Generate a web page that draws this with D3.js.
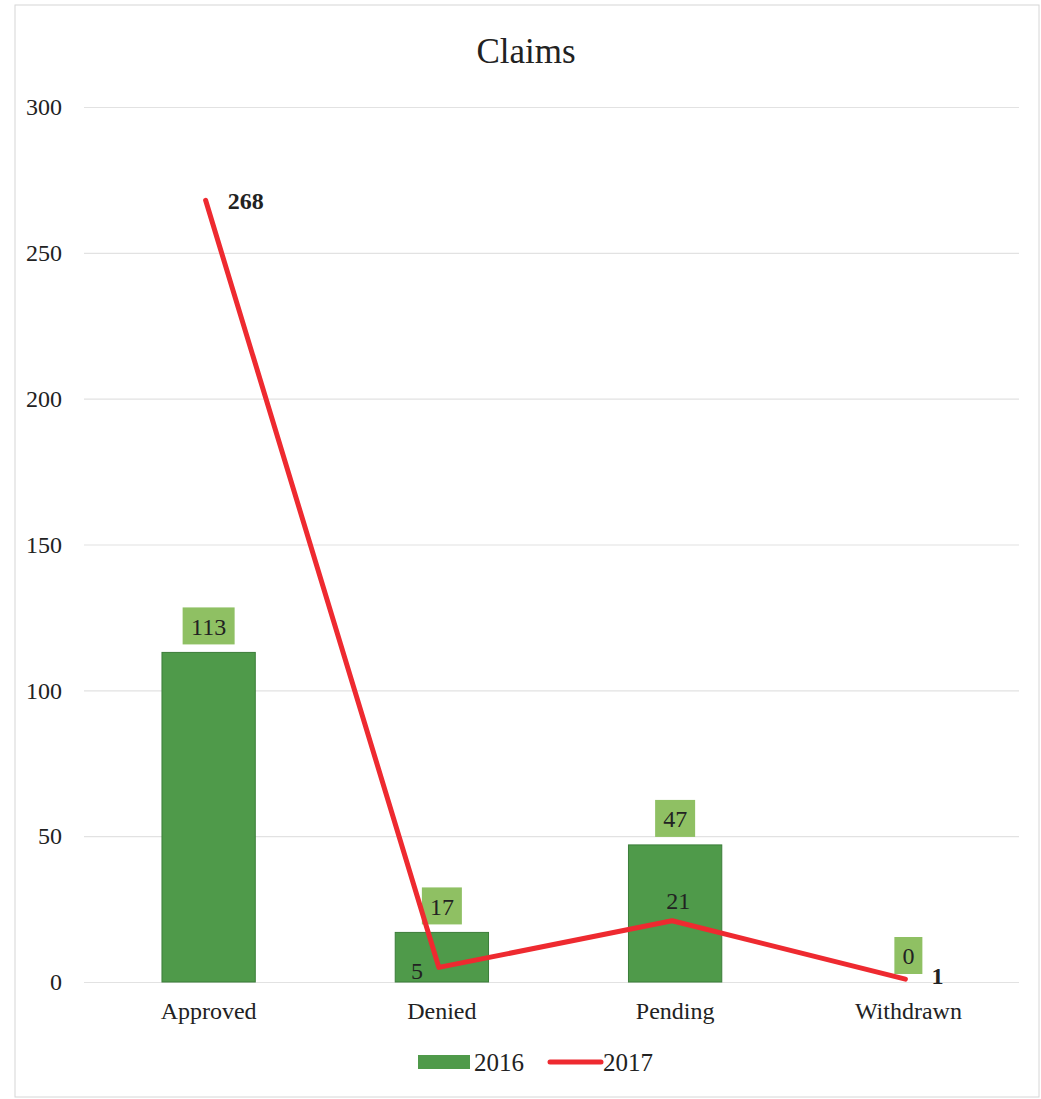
<!DOCTYPE html>
<html><head><meta charset="utf-8">
<script src="https://cdn.jsdelivr.net/npm/d3@7"></script>
<style>body{margin:0;background:#fff}svg{display:block}text{font-family:"Liberation Serif","DejaVu Serif",serif;fill:#222}</style>
</head><body>
<svg id="c" width="1041" height="1099"></svg>
<script>
const categories = ["Approved","Denied","Pending","Withdrawn"];
const values2016 = [113,17,47,0];
const values2017 = [268,5,21,1];
const yTicks = [0,50,100,150,200,250,300];
const seriesNames = ["2016","2017"];

const svg = d3.select("#c");
const W=1041,H=1099;
const m={left:92,right:16,top:107,bottom:117};
const x=d3.scaleBand().domain(categories).range([m.left,W-m.right]).paddingInner(0.6).paddingOuter(0.3);
const y=d3.scaleLinear().domain([0,300]).range([H-m.bottom,m.top]);
const FS=24;

svg.append("rect").attr("x",15).attr("y",5).attr("width",1024).attr("height",1092).attr("fill","none").attr("stroke","#d6d6d6").attr("stroke-width",1);

svg.append("text").attr("x",526).attr("y",63).attr("text-anchor","middle").attr("font-size",35).text("Claims");

// grid
const yAxis=svg.append("g").attr("transform",`translate(${m.left-8},0)`)
  .call(d3.axisLeft(y).tickValues(yTicks).tickSize(-(W-m.right-m.left+2)).tickPadding(22).tickFormat(d3.format("d")));
yAxis.select(".domain").remove();
yAxis.selectAll(".tick line").attr("stroke","#e2e2e2").attr("stroke-width",1.2);
yAxis.selectAll(".tick text").attr("font-size",FS).attr("fill","#333").attr("font-family","Liberation Serif, serif");

// bars
const bw=x.bandwidth();
svg.selectAll("rect.bar").data(values2016).join("rect").attr("class","bar")
  .attr("x",(d,i)=>x(categories[i])).attr("y",d=>y(d)).attr("width",bw).attr("height",d=>y(0)-y(d))
  .attr("fill","#4f9a4a").attr("stroke","#3b7d39").attr("stroke-width",1);

// bar labels
const lb=svg.selectAll("g.bl").data(values2016).join("g").attr("class","bl")
  .attr("transform",(d,i)=>`translate(${x(categories[i])+bw/2},${y(d)-26})`);
lb.append("rect").attr("x",d=>-(String(d).length*12+16)/2).attr("y",-19).attr("width",d=>String(d).length*12+16).attr("height",37).attr("fill","#8fc063");
lb.append("text").attr("text-anchor","middle").attr("dy","0.35em").attr("font-size",FS).attr("fill","#2a3a2a").text(d=>d);

// line
const cx=i=>x(categories[i])+bw/2-3;
const line=d3.line().x((d,i)=>cx(i)).y(d=>y(d));
svg.append("path").datum(values2017).attr("d",line).attr("fill","none").attr("stroke","#ee2a30").attr("stroke-width",5).attr("stroke-linecap","round").attr("stroke-linejoin","round");

// line labels
const lpos=[{dx:22,dy:9,anchor:"start",bold:true},{dx:-22,dy:12,anchor:"middle",bold:false},{dx:6,dy:-12,anchor:"middle",bold:false},{dx:26,dy:5,anchor:"start",bold:true}];
svg.selectAll("text.ll").data(values2017).join("text").attr("class","ll")
  .attr("x",(d,i)=>cx(i)+lpos[i].dx).attr("y",(d,i)=>y(d)+lpos[i].dy)
  .attr("text-anchor",(d,i)=>lpos[i].anchor).attr("font-size",FS)
  .attr("font-weight",(d,i)=>lpos[i].bold?"bold":"normal").attr("fill",(d,i)=>lpos[i].bold?"#111":"#333").text(d=>d);

// x labels
const xAxis=svg.append("g").attr("transform",`translate(0,${y(0)})`).call(d3.axisBottom(x).tickSize(0).tickPadding(20));
xAxis.select(".domain").remove();
xAxis.selectAll(".tick text").attr("font-size",FS).attr("fill","#333").attr("font-family","Liberation Serif, serif");

// legend
const lg=svg.append("g").attr("transform","translate(418,1062)");
lg.append("rect").attr("x",0).attr("y",-7).attr("width",52).attr("height",14).attr("fill","#4f9a4a");
lg.append("text").attr("x",56).attr("y",0).attr("dy","0.35em").attr("font-size",25).text(seriesNames[0]);
lg.append("line").attr("x1",132).attr("x2",183).attr("y1",0).attr("y2",0).attr("stroke","#ee2a30").attr("stroke-width",5).attr("stroke-linecap","round");
lg.append("text").attr("x",185).attr("y",0).attr("dy","0.35em").attr("font-size",25).text(seriesNames[1]);
</script>
</body></html>
